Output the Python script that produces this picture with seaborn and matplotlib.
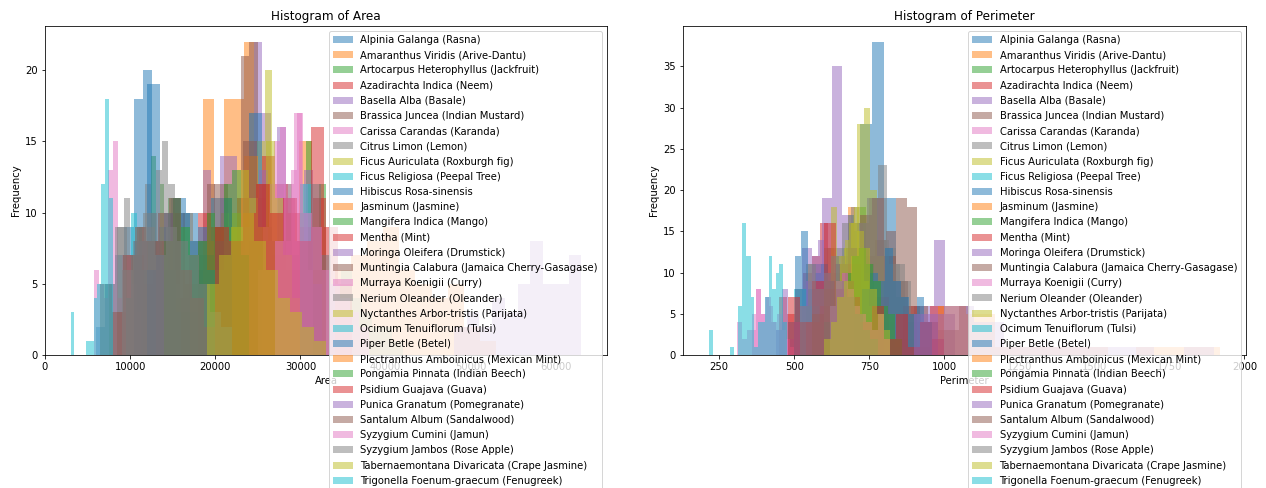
import numpy as np
import pandas as pd
import seaborn as sns
import matplotlib.pyplot as plt
from matplotlib.patches import Patch

species = [
    "Alpinia Galanga (Rasna)", "Amaranthus Viridis (Arive-Dantu)",
    "Artocarpus Heterophyllus (Jackfruit)", "Azadirachta Indica (Neem)",
    "Basella Alba (Basale)", "Brassica Juncea (Indian Mustard)",
    "Carissa Carandas (Karanda)", "Citrus Limon (Lemon)",
    "Ficus Auriculata (Roxburgh fig)", "Ficus Religiosa (Peepal Tree)",
    "Hibiscus Rosa-sinensis", "Jasminum (Jasmine)", "Mangifera Indica (Mango)",
    "Mentha (Mint)", "Moringa Oleifera (Drumstick)",
    "Muntingia Calabura (Jamaica Cherry-Gasagase)", "Murraya Koenigii (Curry)",
    "Nerium Oleander (Oleander)", "Nyctanthes Arbor-tristis (Parijata)",
    "Ocimum Tenuiflorum (Tulsi)", "Piper Betle (Betel)",
    "Plectranthus Amboinicus (Mexican Mint)", "Pongamia Pinnata (Indian Beech)",
    "Psidium Guajava (Guava)", "Punica Granatum (Pomegranate)",
    "Santalum Album (Sandalwood)", "Syzygium Cumini (Jamun)",
    "Syzygium Jambos (Rose Apple)", "Tabernaemontana Divaricata (Crape Jasmine)",
    "Trigonella Foenum-graecum (Fenugreek)",
]

# area: bin range and counts per species
area_lo = [6000, 15000, 11500, 8500, 18500, 17000, 5800, 7500, 19000, 9500,
           10500, 17000, 25000, 18000, 22000, 13000, 25000, 8500, 20000, 30000,
           12000, 34000, 14000, 20000, 48000, 6500, 27000, 9000, 19000, 3000]
area_hi = [17000, 27000, 16500, 19000, 28500, 27000, 11300, 14500, 27500, 16000,
           25500, 33000, 33000, 33000, 32500, 30000, 31500, 16000, 30000, 42000,
           22000, 53000, 24000, 36000, 63000, 20000, 38000, 22000, 33000, 7950]
area_counts = [
    [2, 5, 7, 9, 18, 20, 8, 6, 11, 3],
    [4, 10, 8, 18, 9, 18, 18, 22, 8, 3],
    [6, 8, 14, 7, 12, 5, 11, 4, 3, 2],
    [3, 7, 7, 5, 6, 8, 10, 4, 7, 2],
    [13, 8, 14, 14, 9, 7, 22, 17, 5, 3],
    [3, 6, 12, 9, 11, 7, 21, 22, 11, 6],
    [6, 5, 4, 13, 15, 4, 7, 7, 5, 3],
    [5, 9, 9, 4, 7, 9, 12, 10, 6, 3],
    [5, 7, 10, 8, 6, 9, 14, 15, 20, 10],
    [4, 10, 9, 6, 8, 7, 9, 9, 6, 3],
    [8, 19, 6, 11, 10, 8, 11, 9, 4, 17],
    [4, 8, 8, 9, 14, 12, 7, 10, 15, 6],
    [7, 9, 8, 11, 12, 7, 10, 15, 9, 12],
    [10, 9, 7, 11, 8, 14, 12, 10, 9, 11],
    [7, 9, 11, 13, 8, 16, 11, 8, 13, 5],
    [8, 10, 5, 7, 12, 9, 15, 12, 8, 6],
    [6, 9, 12, 15, 16, 8, 13, 17, 12, 6],
    [9, 11, 7, 9, 10, 10, 13, 15, 12, 5],
    [6, 9, 10, 13, 11, 9, 15, 11, 7, 4],
    [12, 12, 7, 5, 6, 4, 3, 2, 2, 1],
    [6, 7, 10, 11, 10, 8, 9, 6, 8, 11],
    [6, 7, 8, 9, 6, 5, 4, 5, 2, 1],
    [8, 11, 9, 7, 8, 10, 9, 12, 13, 7],
    [9, 8, 10, 12, 10, 11, 8, 16, 9, 5],
    [2, 3, 2, 4, 3, 5, 8, 5, 5, 7],
    [5, 3, 7, 9, 8, 10, 11, 6, 4, 2],
    [8, 12, 17, 10, 9, 6, 5, 4, 3, 2],
    [6, 8, 9, 7, 9, 8, 7, 5, 3, 2],
    [5, 7, 9, 10, 8, 6, 4, 3, 2, 1],
    [3, 0, 0, 0, 1, 1, 4, 5, 12, 18, 11],
]

# perimeter: bin range and counts per species
perim_lo = [520, 560, 600, 450, 525, 735, 310, 540, 600, 500,
            480, 620, 640, 540, 440, 560, 360, 600, 620, 355,
            700, 980, 620, 480, 900, 600, 620, 520, 600, 215]
perim_hi = [920, 800, 800, 720, 1035, 1085, 470, 900, 820, 920,
            700, 860, 820, 1000, 640, 960, 500, 960, 780, 475,
            960, 1920, 860, 1000, 1900, 800, 820, 780, 820, 355]
perim_counts = [
    [3, 6, 10, 12, 16, 28, 38, 19, 7, 4],
    [4, 8, 13, 10, 12, 18, 9, 7, 5, 2],
    [3, 6, 10, 13, 17, 15, 18, 9, 5, 2],
    [7, 5, 8, 10, 12, 16, 9, 7, 4, 2],
    [13, 11, 19, 35, 17, 16, 10, 6, 4, 3, 2, 6, 6, 14, 5],
    [12, 14, 15, 19, 18, 6, 4, 3, 3, 6],
    [4, 2, 3, 5, 8, 5, 7, 4, 3, 4],
    [11, 11, 13, 13, 16, 18, 16, 19, 23, 13, 11, 5],
    [2, 18, 12, 13, 16, 28, 30, 20, 12, 5],
    [8, 6, 4, 5, 7, 8, 5, 3, 1, 1],
    [4, 12, 15, 8, 10, 11, 9, 7, 5, 3],
    [3, 6, 9, 11, 13, 10, 8, 5, 3, 2],
    [2, 5, 9, 12, 13, 13, 11, 6, 4, 2],
    [4, 6, 9, 11, 8, 7, 2, 6, 1, 6],
    [3, 8, 2, 4, 6, 9, 12, 14, 10, 5],
    [5, 8, 11, 13, 17, 19, 12, 9, 6, 4],
    [3, 8, 5, 7, 6, 4, 5, 3, 2, 1],
    [9, 11, 13, 16, 19, 14, 11, 9, 5, 4],
    [6, 9, 11, 14, 16, 18, 13, 9, 6, 3],
    [7, 1, 4, 4, 7, 12, 8, 10, 11, 4],
    [5, 8, 10, 9, 13, 9, 7, 5, 7, 4],
    [6, 5, 1, 1, 1, 1, 0, 1, 1, 1],
    [4, 7, 10, 12, 13, 11, 9, 6, 5, 2],
    [7, 4, 9, 16, 8, 7, 4, 6, 2, 5, 1, 4, 2],
    [5, 6, 4, 1, 1, 1, 1, 1, 0, 1],
    [4, 6, 8, 10, 9, 7, 5, 4, 3, 4],
    [6, 9, 10, 8, 6, 5, 4, 3, 5, 2],
    [6, 11, 8, 10, 12, 9, 7, 5, 3, 2],
    [2, 4, 7, 9, 12, 15, 13, 8, 5, 3],
    [3, 0, 0, 0, 0, 1, 0, 6, 16, 12],
]

colors = sns.color_palette("tab10", 10)

W, H = 1266, 488
fig = plt.figure(figsize=(W / 72, H / 72), dpi=72)
ax1 = fig.add_axes([45 / W, 133 / H, 562 / W, 329 / H])
ax2 = fig.add_axes([683 / W, 133 / H, 563 / W, 329 / H])


def draw(ax, lo, hi, counts, xlabel, title):
    handles = []
    for i, name in enumerate(species):
        edges = np.linspace(lo[i], hi[i], len(counts[i]) + 1)
        df = pd.DataFrame({"x": (edges[:-1] + edges[1:]) / 2, "w": counts[i]})
        c = colors[i % 10]
        sns.histplot(data=df, x="x", weights="w", bins=edges.tolist(), ax=ax,
                     color=c, alpha=0.5, linewidth=0)
        handles.append(Patch(facecolor=c, alpha=0.5, label=name))
    ax.set_title(title)
    ax.set_xlabel(xlabel)
    ax.set_ylabel("Frequency")
    ax.legend(handles=handles, loc="upper right", labelspacing=0.52)


draw(ax1, area_lo, area_hi, area_counts, "Area", "Histogram of Area")
draw(ax2, perim_lo, perim_hi, perim_counts, "Perimeter", "Histogram of Perimeter")

fig.savefig("out.png", dpi=72)
